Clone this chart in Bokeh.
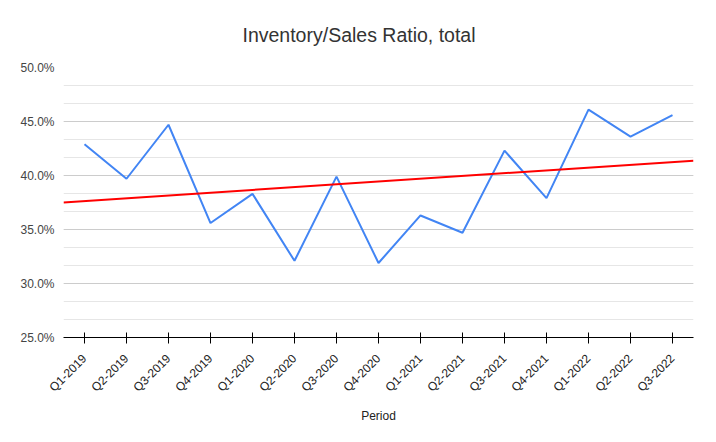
import numpy as np
from math import pi
from bokeh.plotting import figure
from bokeh.models import Range1d, FixedTicker, SingleIntervalTicker, PrintfTickFormatter, Title
from bokeh.embed import file_html
from bokeh.resources import INLINE

# ---- data ----
periods = ["Q1-2019", "Q2-2019", "Q3-2019", "Q4-2019",
           "Q1-2020", "Q2-2020", "Q3-2020", "Q4-2020",
           "Q1-2021", "Q2-2021", "Q3-2021", "Q4-2021",
           "Q1-2022", "Q2-2022", "Q3-2022"]
ratio_pct = [42.9, 39.7, 44.7, 35.6, 38.3, 32.1, 39.9, 31.9,
             36.3, 34.7, 42.3, 37.9, 46.1, 43.6, 45.6]
y_min, y_max = 25, 50
title_text = "Inventory/Sales Ratio, total"
x_label = "Period"

FONT = "Liberation Sans"

idx = list(range(len(periods)))

# linear trendline (least squares over the series)
slope, intercept = np.polyfit(idx, ratio_pct, 1)
trend_x = [-0.5, len(periods) - 0.5]
trend_y = [intercept + slope * x for x in trend_x]

p = figure(width=700, height=426, output_backend="svg", toolbar_location=None,
           x_range=Range1d(-0.5, len(periods) - 0.5), y_range=Range1d(y_min, y_max),
           min_border_left=63, min_border_right=7, min_border_top=67, min_border_bottom=89)
p.title = None
p.add_layout(Title(text=title_text, align="left", offset=179,
                   text_font=FONT, text_font_size="19.5px", text_font_style="normal",
                   text_color="#333333", standoff=43), "above")

p.background_fill_color = "white"
p.border_fill_color = "white"
p.outline_line_color = None

p.line(idx, ratio_pct, line_color="#4285F4", line_width=2)
p.line(trend_x, trend_y, line_color="#FF0000", line_width=2)

# x axis
xa = p.xaxis[0]
xa.ticker = FixedTicker(ticks=idx)
xa.major_label_overrides = {i: lab for i, lab in zip(idx, periods)}
xa.major_label_orientation = pi / 4
xa.major_label_text_font = FONT
xa.major_label_text_font_size = "12px"
xa.major_label_text_color = "#222222"
xa.major_label_standoff = 13
xa.axis_line_color = "black"
xa.axis_line_width = 1
xa.major_tick_line_color = "black"
xa.major_tick_in = 5
xa.major_tick_out = 6
xa.minor_tick_line_color = None
xa.axis_label = x_label
xa.axis_label_text_font = FONT
xa.axis_label_text_font_size = "12px"
xa.axis_label_text_font_style = "normal"
xa.axis_label_text_color = "#222222"
xa.axis_label_standoff = 7

# y axis
ya = p.yaxis[0]
ya.ticker = SingleIntervalTicker(interval=5, num_minor_ticks=3)
ya.formatter = PrintfTickFormatter(format="%.1f%%")
ya.axis_line_color = None
ya.major_tick_line_color = None
ya.minor_tick_line_color = None
ya.major_label_standoff = 3
ya.major_label_text_font = FONT
ya.major_label_text_font_size = "12px"
ya.major_label_text_color = "#444444"

p.xgrid.grid_line_color = None
p.ygrid.grid_line_color = "#cccccc"
p.ygrid.minor_grid_line_color = "#e6e6e6"
p.ygrid.ticker = ya.ticker

open("out.html", "w").write(file_html(p, INLINE))
